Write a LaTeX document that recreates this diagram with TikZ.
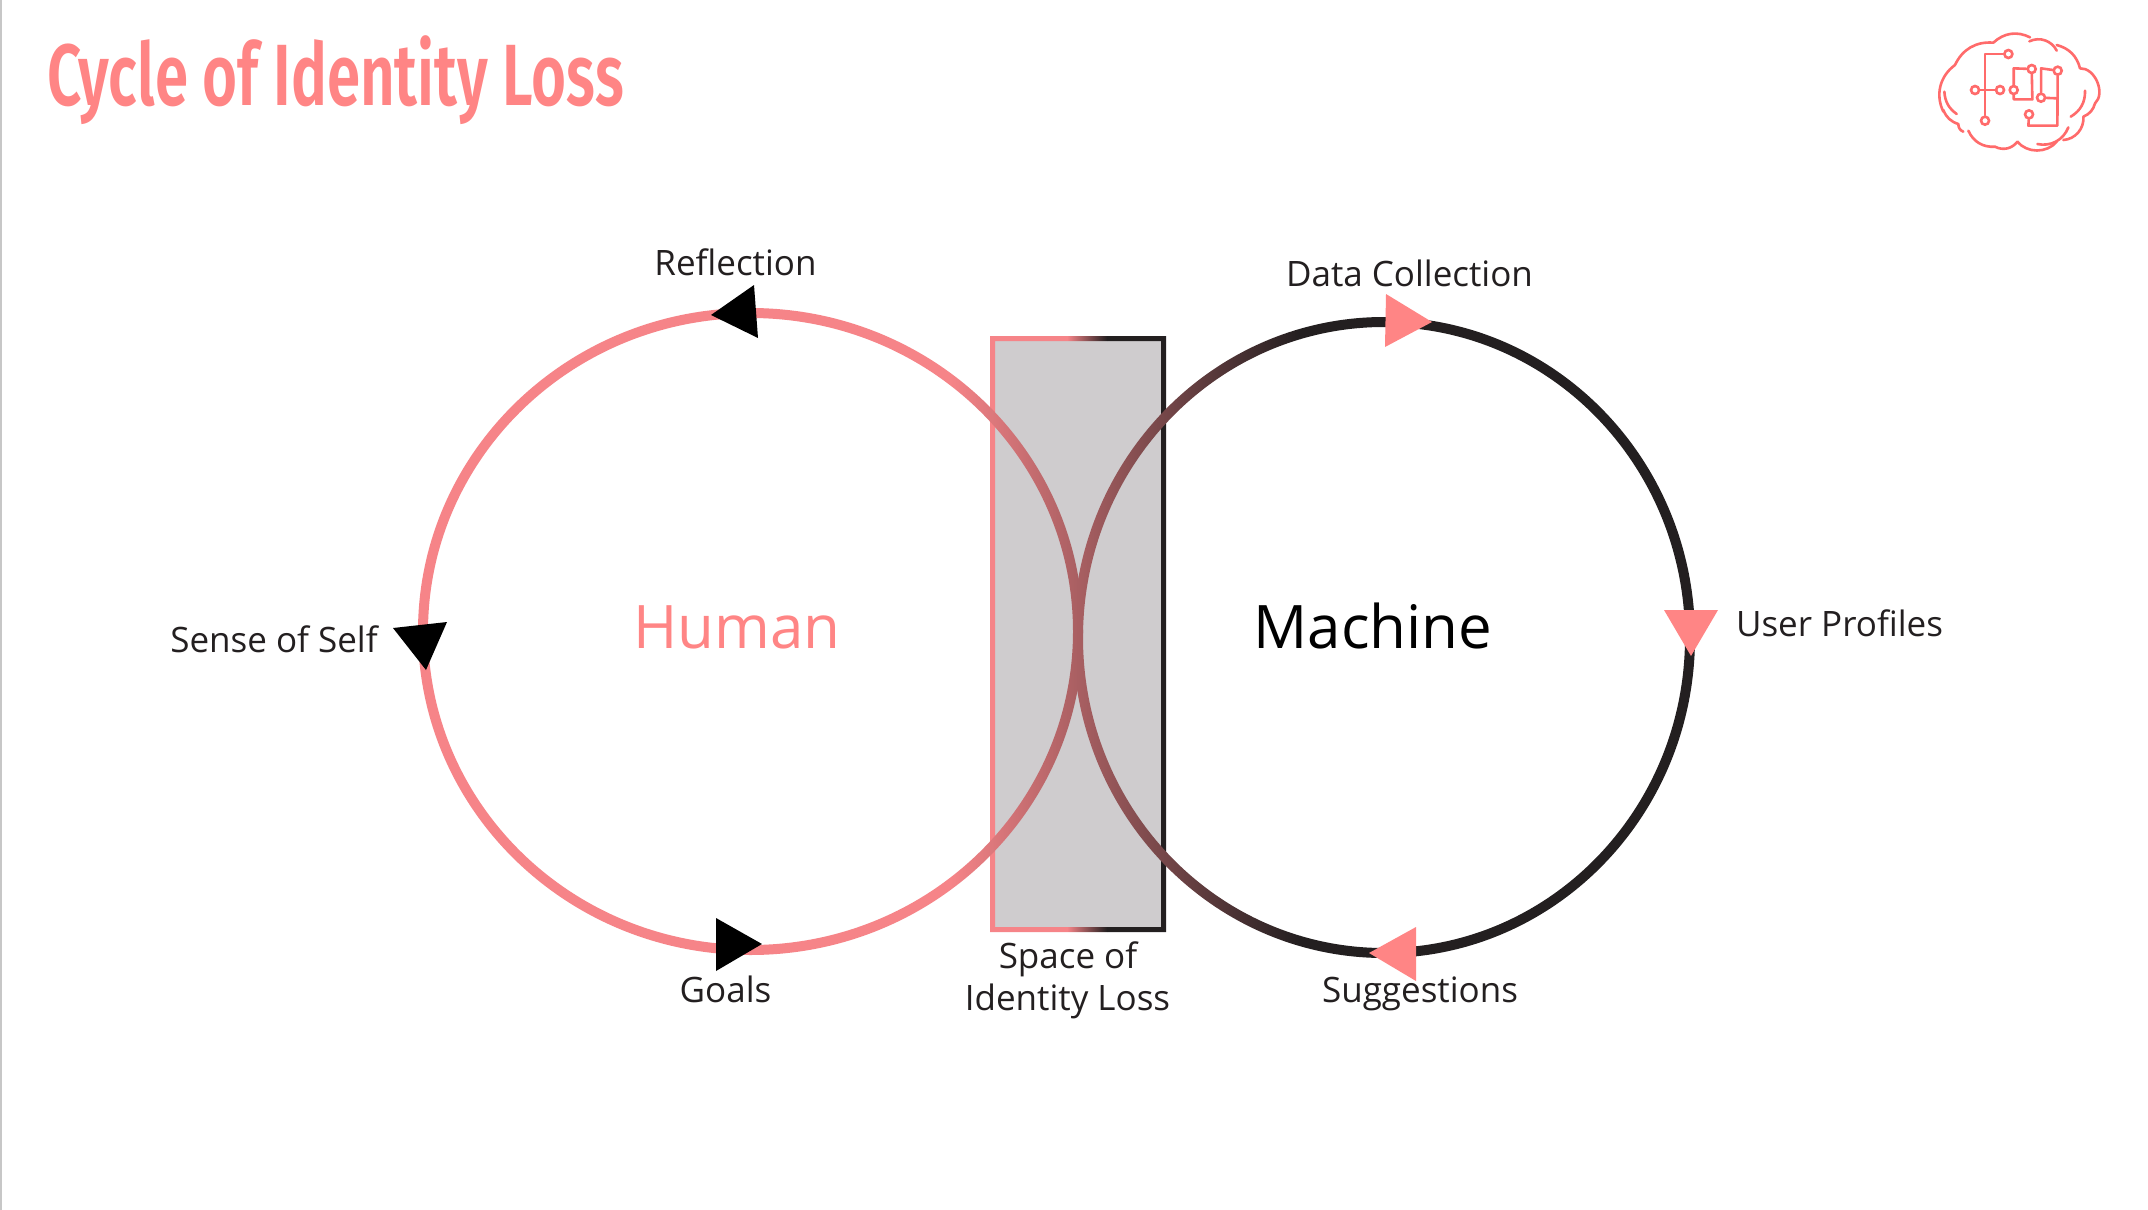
\documentclass[tikz,border=0pt]{standalone}
\usepackage{fontspec}
\setmainfont{Open Sans}
\newfontfamily\titlefont{Fira Sans SemiBold}
\usepackage{tikz}

\definecolor{humanpink}{HTML}{F68488}
\definecolor{titlepink}{HTML}{FF8585}
\definecolor{logopink}{HTML}{FF6B6B}
\definecolor{machineblack}{HTML}{231F20}
\definecolor{lossgrey}{HTML}{CFCCCE}

\tikzset{
    px/.style={x=0.5pt,y=-0.5pt},
    label/.style={anchor=base,text=machineblack,font=\fontsize{17.5pt}{20pt}\selectfont,inner sep=0pt},
    bigword/.style={anchor=base,inner sep=0pt,font=\fontsize{30pt}{36pt}\selectfont},
    trace/.style={logopink,line width=1.3pt,line cap=round,line join=round},
    pad/.style={circle,draw=logopink,line width=1.3pt,fill=white,minimum size=4pt,inner sep=0pt}
}
\newcommand{\loopramp}{%
    \fill[humanpink] (400,280) rectangle (950,990);
    \shade[left color=humanpink,right color=machineblack] (950,280) rectangle (1300,990);
    \fill[machineblack] (1300,280) rectangle (1720,990);
}

\begin{document}
\begin{tikzpicture}[px]
    \useasboundingbox[fill=white] (0,0) rectangle (2148,1210);
    \draw[black!22,line width=0.6pt] (1,0) -- (1,1210);

    \node[anchor=base west,inner sep=0pt,text=titlepink,xscale=0.69,
        font=\titlefont\fontsize{43.5pt}{50pt}\selectfont] (title) at (47,105) {Cycle of Identity Loss};

    % loss rectangle, edge goes from pink to black
    \fill[lossgrey] (990,336) rectangle (1166,932);
    \begin{scope}[even odd rule]
        \clip (990,336) rectangle (1166,932) (995,341) rectangle (1161,927);
        \fill[humanpink] (985,330) rectangle (1067,940);
        \shade[left color=humanpink,right color=machineblack] (1067,330) rectangle (1107,940);
        \fill[machineblack] (1107,330) rectangle (1175,940);
    \end{scope}

    % both loops share one colour ramp
    \begin{scope}[even odd rule]
        \clip (750.5,631.5) ellipse [x radius=332.5,y radius=323.5]
            (750.5,631.5) ellipse [x radius=322.5,y radius=313.5];
        \loopramp
    \end{scope}
    \begin{scope}[even odd rule]
        \clip (1384,637.5) ellipse [x radius=311,y radius=320.5]
            (1384,637.5) ellipse [x radius=301,y radius=310.5];
        \loopramp
    \end{scope}

    % heads
    \fill[black] (711,315) -- (754,285) -- (758,338) -- cycle;
    \fill[black] (393,628) -- (447,622) -- (426,670) -- cycle;
    \fill[black] (716,918) -- (762,944) -- (716,971) -- cycle;
    \fill[titlepink] (1386,294) -- (1432,322) -- (1385,347) -- cycle;
    \fill[titlepink] (1664,610) -- (1718,610) -- (1691,656) -- cycle;
    \fill[titlepink] (1416,927) -- (1369,953) -- (1416,981) -- cycle;

    \node[bigword,text=titlepink] (human) at (737,648) {Human};
    \node[bigword,text=black] (machine) at (1373,648) {Machine};

    \node[label] (reflection) at (735.5,275) {Reflection};
    \node[label] (selfsense) at (274,652) {Sense of Self};
    \node[label] (goals) at (725.5,1002) {Goals};
    \node[label] (datacoll) at (1409.5,286) {Data Collection};
    \node[label] (userprof) at (1839.5,636) {User Profiles};
    \node[label] (suggest) at (1420,1002) {Suggestions};
    \node[label] (lossa) at (1068,968) {Space of};
    \node[label] (lossb) at (1067.5,1010) {Identity Loss};

    % brain logo, drawn in zoomed units
    \begin{scope}[shift={(1900,0)},x=0.1667pt,y=-0.1667pt]
        \draw[trace] (280,128) to[bend left=35] (390,112);
        \draw[trace] (388,124) to[bend left=45] (470,152);
        \draw[trace] (470,135) to[bend left=30] (540,205);
        \draw[trace] (540,205) to[bend left=70] (585,310) to[bend left=25] (550,350);
        \draw[trace] (550,350) to[bend left=45] (490,420);
        \draw[trace] (505,382) to[bend left=40] (412,432);
        \draw[trace] (470,425) to[bend left=50] (352,425);
        \draw[trace] (352,425) to[bend left=40] (285,440) to[bend left=35] (205,392);
        \draw[trace] (190,395) to[bend left=35] (175,372) to[bend left=25] (130,330);
        \draw[trace] (130,335) to[bend left=40] (165,195);
        \draw[trace] (165,195) to[bend left=35] (280,128);
        \draw[trace] (133,275) to[bend right=25] (170,342);
        \draw[trace] (555,272) to[bend left=30] (512,350);

        \node[pad] (pa) at (325,162) {};
        \node[pad] (pb) at (225,270) {};
        \node[pad] (pc) at (300,270) {};
        \node[pad] (pd) at (255,362) {};
        \node[pad] (pe) at (341,270) {};
        \node[pad] (pf) at (395,207) {};
        \node[pad] (pg) at (473,212) {};
        \node[pad] (ph) at (423,293) {};
        \node[pad] (pi) at (387,343) {};
        \draw[trace] (pa) -| (pd);
        \draw[trace] (pb) -- (pc);
        \draw[trace] (pe) -- (341,205) -- (pf);
        \draw[trace] (pe) -- (341,298) -- (397,298) -- (pf);
        \draw[trace] (pg) -- (423,205) -- (ph);
        \draw[trace] (ph) -- (472,295);
        \draw[trace] (pg) -- (472,377) -- (385,377) -- (pi);
    \end{scope}
\end{tikzpicture}
\end{document}
